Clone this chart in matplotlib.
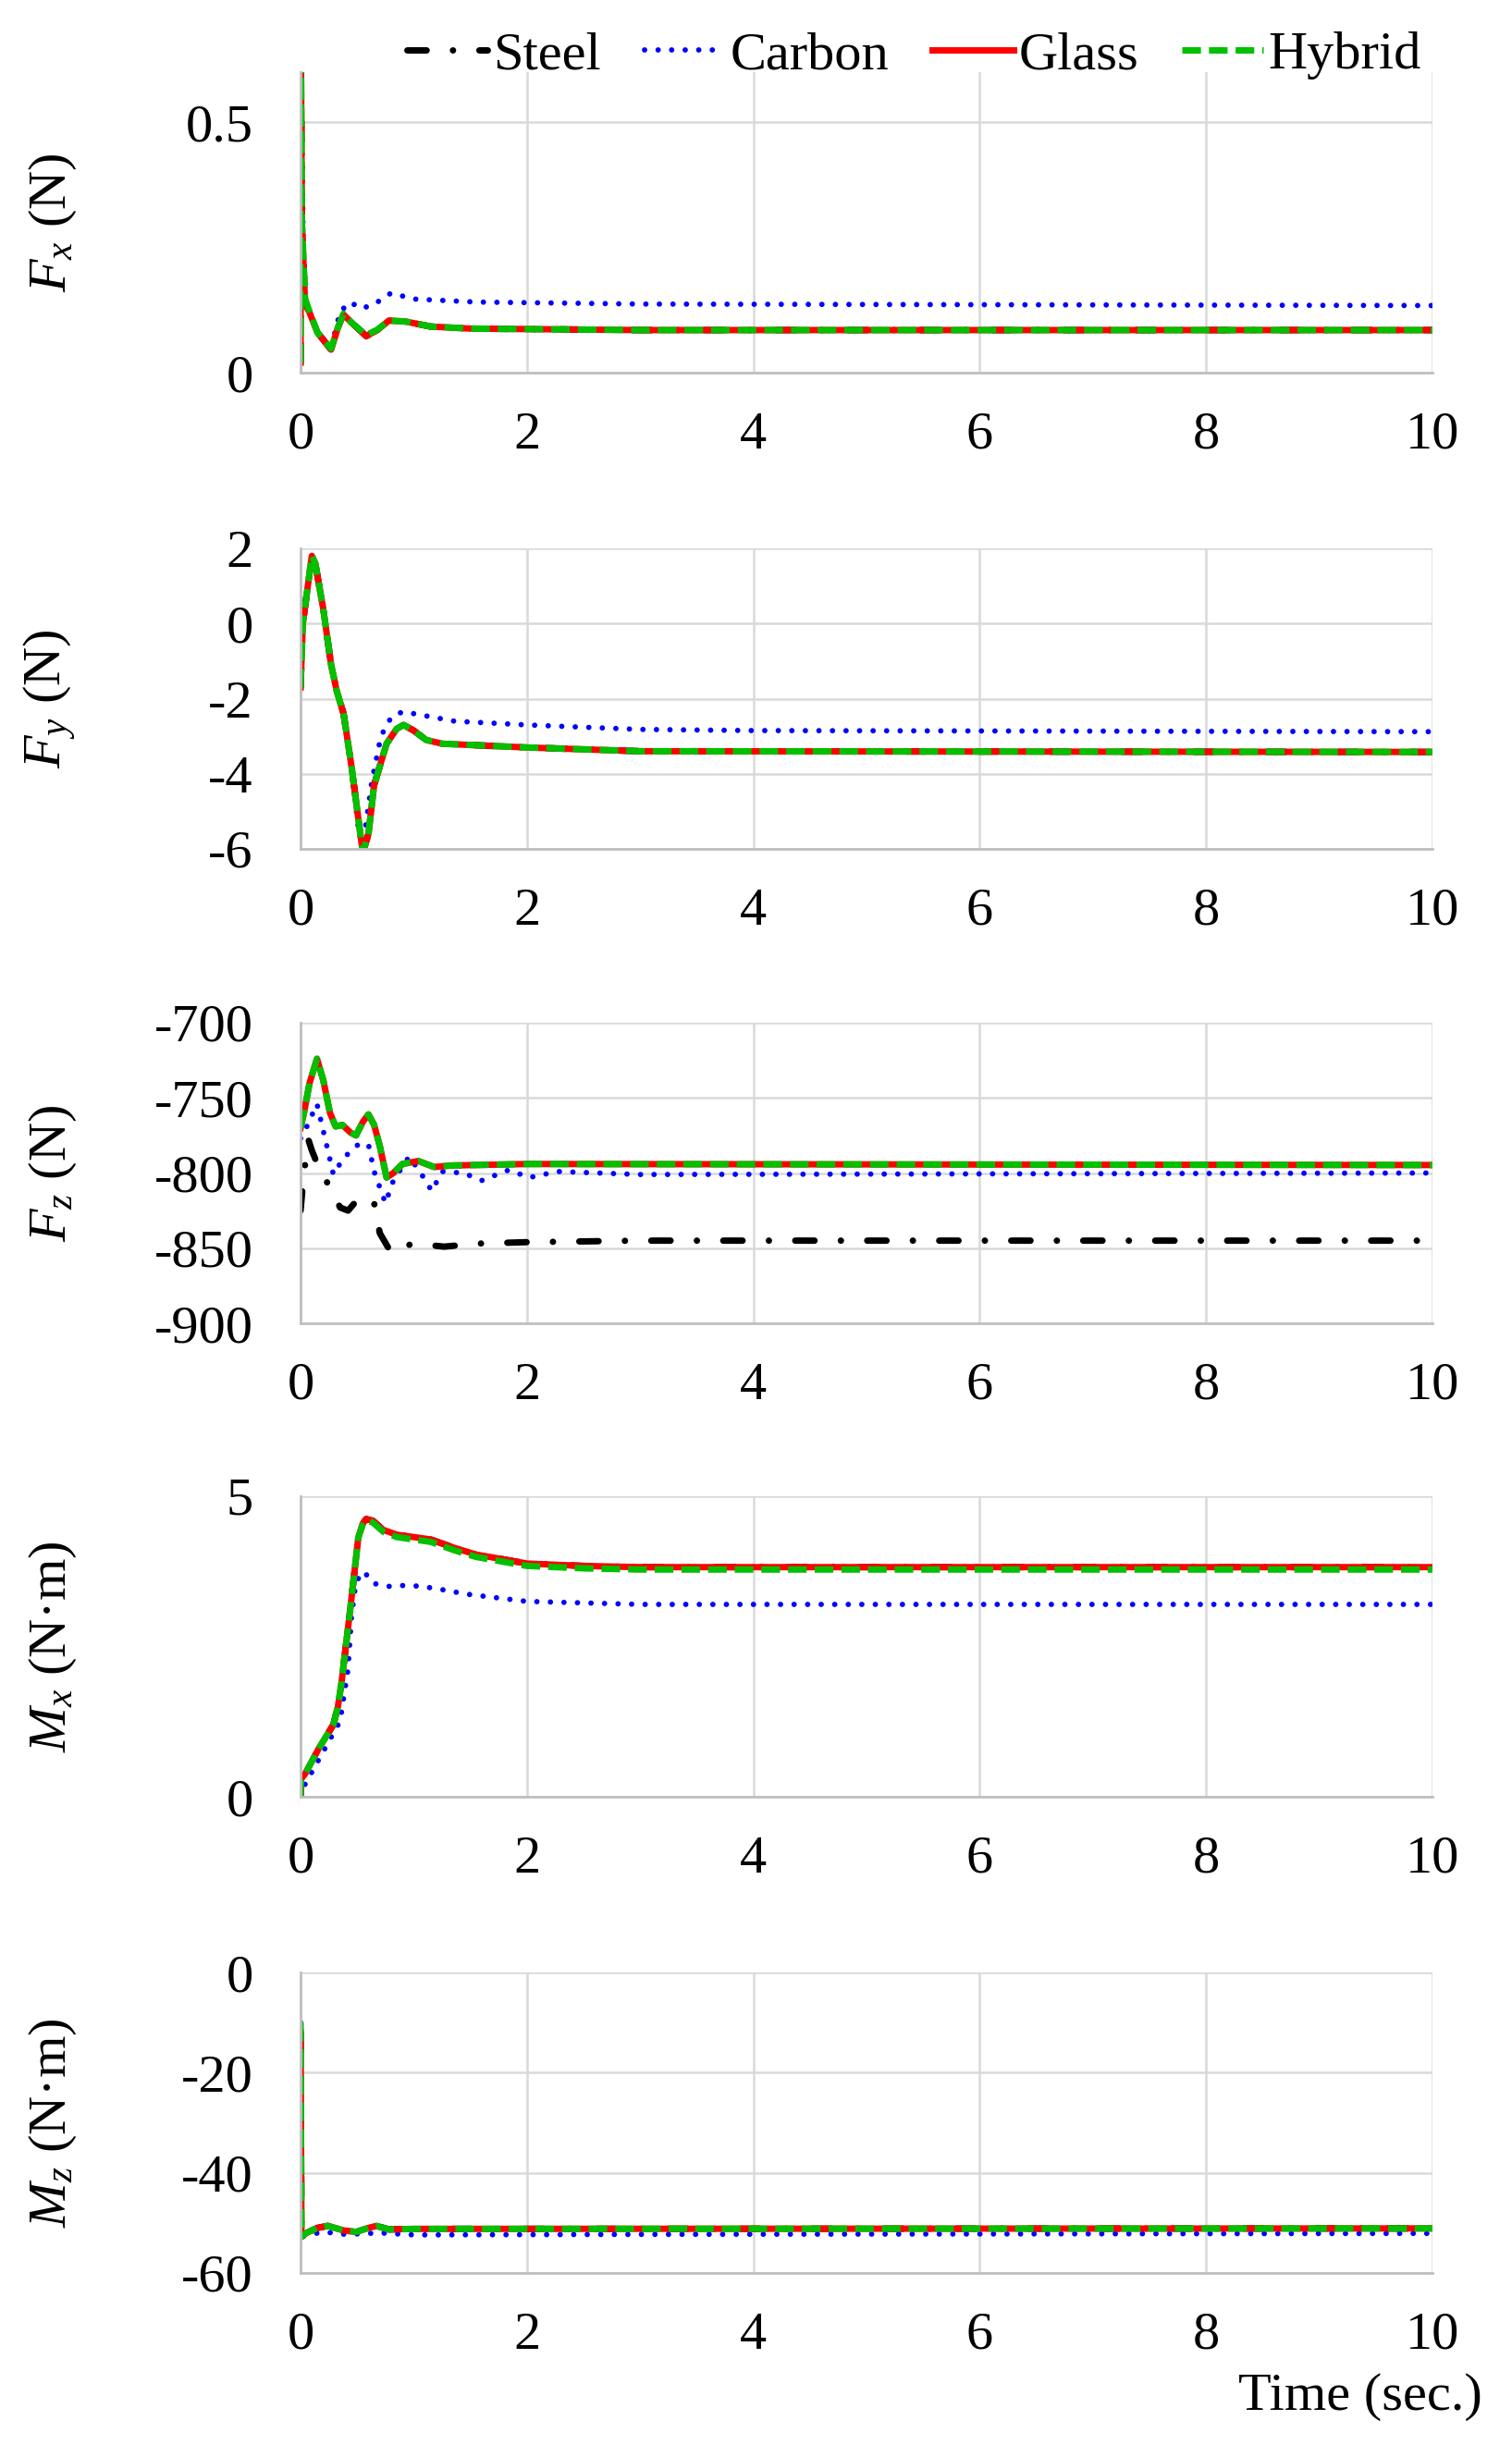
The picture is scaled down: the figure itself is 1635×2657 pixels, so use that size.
import matplotlib
matplotlib.use("Agg")
import matplotlib.pyplot as plt

plt.rcParams['font.family'] = ['Liberation Serif', 'DejaVu Serif']
plt.rcParams['mathtext.fontset'] = 'custom'
plt.rcParams['mathtext.rm'] = 'Liberation Serif'
plt.rcParams['mathtext.it'] = 'Liberation Serif:italic'
plt.rcParams['axes.unicode_minus'] = False

series_names = ["Steel", "Carbon", "Glass", "Hybrid"]
x_ticks = [0, 2, 4, 6, 8, 10]

# ---------------- Fx ----------------
fx_t_main = [0, 0.004, 0.012, 0.04, 0.07, 0.15, 0.27, 0.33, 0.38, 0.45, 0.58, 0.68, 0.78, 0.93, 1.15, 1.5, 2, 3, 5, 10]
fx_glass = [0.02, 0.62, 0.30, 0.135, 0.125, 0.08, 0.046, 0.09, 0.116, 0.10, 0.073, 0.085, 0.104, 0.102, 0.092, 0.088, 0.087, 0.085, 0.085, 0.085]
fx_hybrid = [0.02, 0.62, 0.30, 0.148, 0.128, 0.08, 0.048, 0.09, 0.118, 0.10, 0.075, 0.086, 0.104, 0.102, 0.092, 0.088, 0.087, 0.085, 0.085, 0.085]
fx_steel = fx_glass
fx_t_carbon = [0, 0.004, 0.03, 0.07, 0.15, 0.27, 0.35, 0.44, 0.53, 0.64, 0.8, 1.0, 1.55, 3, 10]
fx_carbon = [0.02, 0.62, 0.14, 0.125, 0.08, 0.05, 0.122, 0.141, 0.128, 0.135, 0.159, 0.147, 0.141, 0.137, 0.134]

# ---------------- Fy ----------------
fy_t_main = [0, 0.02, 0.1, 0.13, 0.2, 0.27, 0.32, 0.38, 0.45, 0.55, 0.6, 0.65, 0.76, 0.85, 0.91, 1.0, 1.11, 1.25, 2, 3, 10]
fy_glass = [-1.7, 0.0, 1.8, 1.6, 0.4, -1.1, -1.8, -2.4, -3.8, -6.1, -5.6, -4.3, -3.2, -2.8, -2.7, -2.85, -3.1, -3.2, -3.3, -3.4, -3.42]
fy_hybrid = fy_glass
fy_steel = fy_glass
fy_t_carbon = [0, 0.02, 0.1, 0.13, 0.2, 0.27, 0.32, 0.38, 0.44, 0.52, 0.57, 0.63, 0.71, 0.8, 0.9, 1.0, 1.36, 2, 3, 4, 10]
fy_carbon = [-1.7, 0.0, 1.8, 1.6, 0.4, -1.1, -1.8, -2.3, -3.6, -5.7, -5.5, -4.2, -3.0, -2.5, -2.35, -2.4, -2.6, -2.7, -2.82, -2.85, -2.88]

# ---------------- Fz ----------------
fz_t_main = [0, 0.03, 0.08, 0.145, 0.2, 0.26, 0.31, 0.37, 0.44, 0.49, 0.55, 0.6, 0.65, 0.7, 0.76, 0.82, 0.9, 1.04, 1.18, 1.33, 2, 10]
fz_glass = [-770, -760, -740, -724, -738, -760, -769, -768, -773, -775, -766, -761, -768, -782, -803, -800, -794, -792, -796, -795, -794, -794.7]
fz_hybrid = fz_glass
fz_t_carbon = [0, 0.05, 0.145, 0.22, 0.29, 0.38, 0.51, 0.6, 0.65, 0.75, 0.82, 0.96, 1.07, 1.16, 1.25, 1.44, 1.6, 1.84, 2.02, 2.27, 3, 10]
fz_carbon = [-777, -770, -754, -778, -801, -790, -781, -781, -799, -820, -805, -789, -801, -812, -799, -800, -805, -798, -803, -799, -801, -800]
fz_t_steel = [0, 0.03, 0.07, 0.1, 0.18, 0.25, 0.35, 0.42, 0.5, 0.6, 0.65, 0.7, 0.8, 0.9, 1.0, 1.27, 1.55, 2, 3, 10]
fz_steel = [-825, -800, -778, -785, -800, -808, -823, -825, -818, -816, -820, -840, -853, -849, -847, -849, -847, -846, -845, -845]

# ---------------- Mx ----------------
mx_t_main = [0, 0.005, 0.04, 0.16, 0.29, 0.33, 0.36, 0.4, 0.44, 0.48, 0.51, 0.55, 0.58, 0.64, 0.73, 0.85, 1.15, 1.36, 1.55, 2, 2.5, 3, 10]
mx_glass = [0, 0.3, 0.38, 0.8, 1.2, 1.5, 1.87, 2.5, 3.14, 3.8, 4.31, 4.55, 4.62, 4.59, 4.44, 4.36, 4.28, 4.14, 4.03, 3.88, 3.84, 3.82, 3.82]
mx_hybrid = [0, 0.3, 0.38, 0.8, 1.2, 1.5, 1.87, 2.5, 3.14, 3.8, 4.31, 4.53, 4.6, 4.56, 4.41, 4.32, 4.24, 4.1, 3.99, 3.84, 3.8, 3.78, 3.78]
mx_steel = mx_glass
mx_t_carbon = [0, 0.005, 0.02, 0.2, 0.35, 0.42, 0.45, 0.49, 0.56, 0.64, 0.78, 0.96, 1.18, 1.47, 2, 3, 10]
mx_carbon = [0, 0.1, 0.14, 0.75, 1.26, 2.13, 3.0, 3.58, 3.75, 3.55, 3.5, 3.52, 3.47, 3.37, 3.25, 3.2, 3.2]

# ---------------- Mz ----------------
mz_t_main = [0, 0.008, 0.03, 0.07, 0.15, 0.24, 0.38, 0.49, 0.6, 0.67, 0.78, 1.0, 10]
mz_glass = [-12, -52.8, -52.3, -51.8, -51.0, -50.6, -51.5, -51.8, -51.0, -50.6, -51.3, -51.2, -51.1]
mz_hybrid = [-10, -52.8, -52.3, -51.8, -51.0, -50.6, -51.5, -51.8, -51.0, -50.6, -51.3, -51.2, -51.1]
mz_steel = mz_glass
mz_t_carbon = [0, 0.008, 0.05, 0.2, 0.4, 0.7, 1.0, 3, 10]
mz_carbon = [-10, -52.8, -52.5, -51.8, -52.3, -52.0, -52.4, -52.3, -52.1]

panels = [
    dict(label=r'$F_x$ (N)', ylim=(0, 0.6), yticks=[0, 0.5], yticklabels=["0", "0.5"],
         steel=(fx_t_main, fx_steel), carbon=(fx_t_carbon, fx_carbon),
         glass=(fx_t_main, fx_glass), hybrid=(fx_t_main, fx_hybrid)),
    dict(label=r'$F_y$ (N)', ylim=(-6, 2), yticks=[-6, -4, -2, 0, 2], yticklabels=["-6", "-4", "-2", "0", "2"],
         steel=(fy_t_main, fy_steel), carbon=(fy_t_carbon, fy_carbon),
         glass=(fy_t_main, fy_glass), hybrid=(fy_t_main, fy_hybrid)),
    dict(label=r'$F_z$ (N)', ylim=(-900, -700), yticks=[-900, -850, -800, -750, -700],
         yticklabels=["-900", "-850", "-800", "-750", "-700"],
         steel=(fz_t_steel, fz_steel), carbon=(fz_t_carbon, fz_carbon),
         glass=(fz_t_main, fz_glass), hybrid=(fz_t_main, fz_hybrid)),
    dict(label=r'$M_x$ (N·m)', ylim=(0, 5), yticks=[0, 5], yticklabels=["0", "5"],
         steel=(mx_t_main, mx_steel), carbon=(mx_t_carbon, mx_carbon),
         glass=(mx_t_main, mx_glass), hybrid=(mx_t_main, mx_hybrid)),
    dict(label=r'$M_z$ (N·m)', ylim=(-60, 0), yticks=[-60, -40, -20, 0], yticklabels=["-60", "-40", "-20", "0"],
         steel=(mz_t_main, mz_steel), carbon=(mz_t_carbon, mz_carbon),
         glass=(mz_t_main, mz_glass), hybrid=(mz_t_main, mz_hybrid)),
]

styles = {
    "steel": dict(color="black", lw=5.0, linestyle=(0, (3.0, 4.1, 0.01, 4.1)),
                  dash_capstyle="round", solid_capstyle="round"),
    "carbon": dict(color="#0000ff", lw=4.2, linestyle=(0, (0.01, 2.5)), dash_capstyle="round"),
    "glass": dict(color="#ff0000", lw=5.0, linestyle="-"),
    "hybrid": dict(color="#00c000", lw=5.0, linestyle=(0, (2.9, 1.25))),
}

W, H = 1635, 2657
fig = plt.figure(figsize=(W / 100, H / 100), dpi=100)
FS = 42
left, right = 325 / W, 1549 / W
tops = [78, 593, 1106, 1618, 2133]
ph = 325

grid_c = "#d9d9d9"
handles = []
for i, p in enumerate(panels):
    bottom = 1 - (tops[i] + ph) / H
    ax = fig.add_axes([left, bottom, right - left, ph / H])
    for key in ["steel", "carbon", "glass", "hybrid"]:
        t, y = p[key]
        ln, = ax.plot(t, y, **styles[key])
        if i == 0:
            handles.append(ln)
    ax.set_xlim(0, 10)
    ax.set_ylim(*p["ylim"])
    ax.set_xticks(x_ticks)
    ax.set_xticklabels([str(v) for v in x_ticks])
    ax.set_yticks(p["yticks"])
    ax.set_yticklabels(p["yticklabels"])
    ax.grid(True, color=grid_c, lw=1.8)
    ax.set_axisbelow(True)
    for s in ["top", "right"]:
        ax.spines[s].set_visible(False)
    for s in ["left", "bottom"]:
        ax.spines[s].set_color("#bfbfbf")
        ax.spines[s].set_linewidth(2.0)
    ax.tick_params(axis="both", length=0, labelsize=FS)
    ax.tick_params(axis="y", pad=37)
    ax.tick_params(axis="x", pad=30)
    ax.set_ylabel(p["label"], fontsize=FS)
    ax.yaxis.set_label_coords(-0.196, 0.5)

fig.legend(handles, series_names, loc="center", bbox_to_anchor=(0.6045, 0.9775), ncol=4,
           frameon=False, fontsize=FS, handlelength=1.5, handletextpad=0.1, columnspacing=0.8)
fig.text(1471 / W, 1 - 2592 / H, "Time (sec.)", fontsize=FS, ha="center", va="center")

fig.savefig("out.png", dpi=100)
